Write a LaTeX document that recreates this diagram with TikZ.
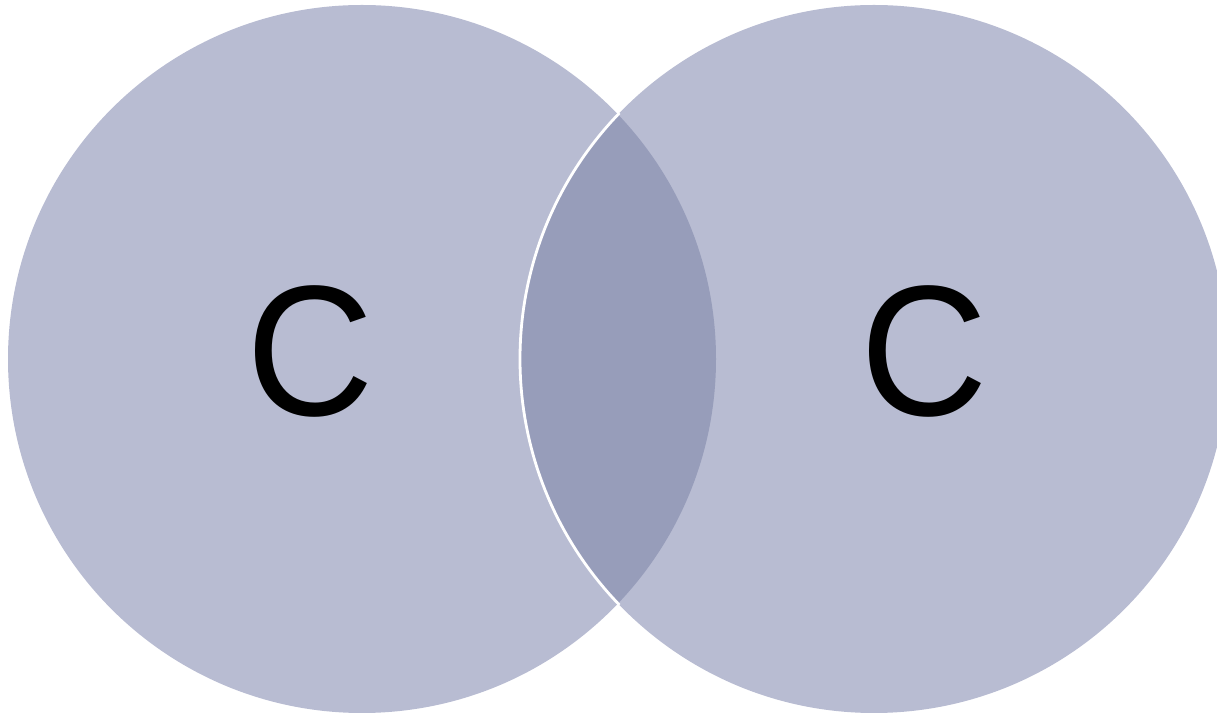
\documentclass[tikz,border=0pt]{standalone}
\usepackage{fontspec}
\setmainfont{Liberation Sans}
\definecolor{circfill}{HTML}{B8BCD2}
\definecolor{lensfill}{HTML}{979DBA}
\tikzset{
  vcirc/.style={circle, inner sep=0pt, outer sep=0pt, minimum size=354pt, fill=circfill},
  lbl/.style={font=\fontsize{93}{93}\selectfont, text=black, inner sep=0pt, anchor=center, xscale=0.95}
}
\begin{document}
\begin{tikzpicture}[x=1pt,y=-1pt,scale=0.5]
\useasboundingbox (0,0) rectangle (1217,715);
\begin{scope}
\clip (0,0) rectangle (1217,715);
\node[vcirc] (left) at (362,359) {};
\node[vcirc] (right) at (874,359) {};
\begin{scope}
  \clip (362,359) circle (354);
  \fill[lensfill] (874,359) circle (354);
\end{scope}
\begin{scope}
  \clip (362,359) circle (356);
  \draw[white, line width=1.4pt] (874,359) circle (354);
\end{scope}
\node[lbl] (cl) at (310,351) {C};
\node[lbl] (cr) at (924,351) {C};
\end{scope}
\end{tikzpicture}
\end{document}
